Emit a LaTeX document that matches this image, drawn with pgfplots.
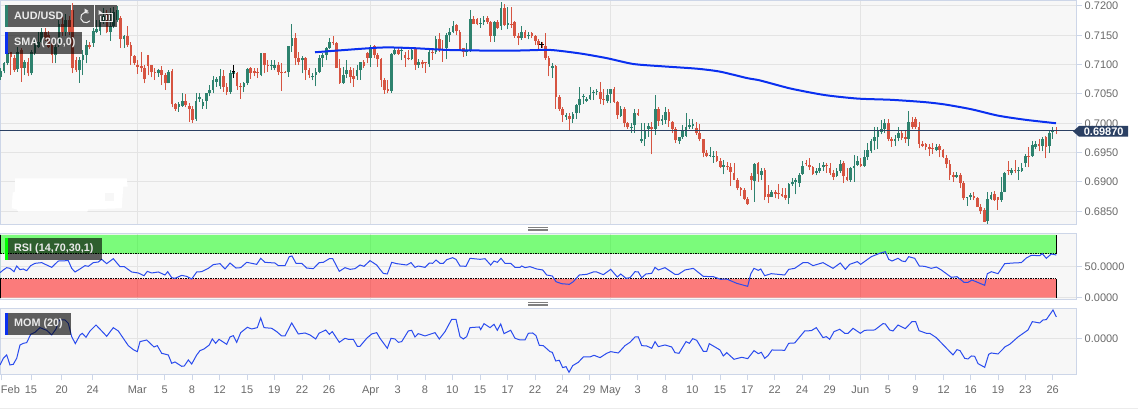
\documentclass[border=0pt]{standalone}
\usepackage{fontspec}
\setmainfont{Liberation Sans}
\usepackage{pgfplots}
\usepackage{pgfplotstable}
\pgfplotsset{compat=1.18}
\definecolor{bgc}{HTML}{F7F7F7}
\definecolor{gridc}{HTML}{E4E4E4}
\definecolor{bordc}{HTML}{CDD6E8}
\definecolor{txtc}{HTML}{6A6A6A}
\definecolor{upc}{HTML}{2E826E}
\definecolor{dnc}{HTML}{D65441}
\definecolor{smac}{HTML}{0A30F0}
\definecolor{linc}{HTML}{2A4BEE}
\definecolor{navy}{HTML}{2B4063}
\pgfplotstableread{
o h l c
0.7079 0.7094 0.7074 0.7089
0.7089 0.7105 0.7085 0.7102
0.7102 0.7122 0.7099 0.7119
0.7121 0.7122 0.7082 0.7113
0.7112 0.7116 0.7088 0.7091
0.7092 0.7130 0.7088 0.7122
0.7125 0.7128 0.7071 0.7094
0.7095 0.7108 0.7082 0.7104
0.7105 0.7111 0.7080 0.7085
0.7085 0.7125 0.7082 0.7122
0.7119 0.7143 0.7116 0.7133
0.7130 0.7156 0.7128 0.7139
0.7139 0.7162 0.7136 0.7156
0.7156 0.7162 0.7140 0.7145
0.7150 0.7158 0.7128 0.7130
0.7136 0.7139 0.7102 0.7116
0.7116 0.7136 0.7102 0.7130
0.7136 0.7176 0.7130 0.7170
0.7170 0.7182 0.7148 0.7156
0.7156 0.7187 0.7148 0.7176
0.7176 0.7182 0.7150 0.7156
0.7193 0.7205 0.7085 0.7094
0.7108 0.7113 0.7088 0.7091
0.7090 0.7113 0.7069 0.7108
0.7108 0.7125 0.7082 0.7116
0.7116 0.7142 0.7102 0.7133
0.7134 0.7139 0.7126 0.7130
0.7137 0.7162 0.7130 0.7158
0.7156 0.7176 0.7153 0.7160
0.7158 0.7182 0.7150 0.7176
0.7175 0.7196 0.7170 0.7182
0.7187 0.7193 0.7153 0.7156
0.7155 0.7196 0.7141 0.7165
0.7165 0.7199 0.7162 0.7190
0.7176 0.7200 0.7173 0.7193
0.7179 0.7182 0.7128 0.7143
0.7143 0.7150 0.7128 0.7148
0.7149 0.7165 0.7130 0.7133
0.7134 0.7139 0.7099 0.7115
0.7115 0.7116 0.7099 0.7102
0.7099 0.7108 0.7084 0.7096
0.7098 0.7122 0.7088 0.7094
0.7094 0.7099 0.7068 0.7075
0.7116 0.7116 0.7082 0.7098
0.7099 0.7100 0.7078 0.7087
0.7087 0.7094 0.7074 0.7085
0.7086 0.7092 0.7079 0.7091
0.7090 0.7098 0.7065 0.7082
0.7082 0.7085 0.7057 0.7068
0.7068 0.7091 0.7068 0.7088
0.7089 0.7092 0.7027 0.7032
0.7032 0.7034 0.7021 0.7025
0.7027 0.7036 0.7020 0.7032
0.7030 0.7051 0.7028 0.7038
0.7038 0.7050 0.7027 0.7031
0.7030 0.7034 0.7003 0.7024
0.7024 0.7029 0.7001 0.7006
0.7007 0.7051 0.7004 0.7038
0.7042 0.7051 0.7037 0.7044
0.7030 0.7041 0.7025 0.7037
0.7038 0.7052 0.7025 0.7051
0.7051 0.7065 0.7046 0.7057
0.7057 0.7081 0.7051 0.7074
0.7071 0.7078 0.7062 0.7075
0.7063 0.7092 0.7059 0.7080
0.7080 0.7090 0.7054 0.7062
0.7062 0.7068 0.7048 0.7054
0.7054 0.7091 0.7050 0.7085
0.7084 0.7099 0.7077 0.7088
0.7085 0.7088 0.7057 0.7063
0.7063 0.7068 0.7041 0.7062
0.7061 0.7071 0.7053 0.7068
0.7068 0.7094 0.7065 0.7092
0.7094 0.7096 0.7076 0.7086
0.7089 0.7094 0.7080 0.7086
0.7087 0.7094 0.7077 0.7085
0.7082 0.7119 0.7080 0.7119
0.7119 0.7119 0.7085 0.7099
0.7099 0.7108 0.7088 0.7098
0.7098 0.7108 0.7091 0.7099
0.7094 0.7107 0.7090 0.7099
0.7100 0.7105 0.7082 0.7088
0.7088 0.7102 0.7055 0.7086
0.7088 0.7089 0.7085 0.7086
0.7087 0.7132 0.7079 0.7132
0.7132 0.7169 0.7122 0.7146
0.7146 0.7153 0.7099 0.7111
0.7111 0.7122 0.7099 0.7105
0.7107 0.7115 0.7085 0.7112
0.7112 0.7113 0.7074 0.7091
0.7090 0.7094 0.7077 0.7082
0.7078 0.7085 0.7073 0.7080
0.7082 0.7094 0.7063 0.7087
0.7088 0.7116 0.7085 0.7112
0.7112 0.7119 0.7096 0.7116
0.7116 0.7130 0.7107 0.7128
0.7128 0.7146 0.7126 0.7139
0.7139 0.7148 0.7133 0.7136
0.7137 0.7139 0.7094 0.7095
0.7095 0.7109 0.7067 0.7069
0.7069 0.7096 0.7067 0.7083
0.7084 0.7108 0.7077 0.7090
0.7090 0.7096 0.7068 0.7078
0.7080 0.7094 0.7062 0.7076
0.7080 0.7099 0.7074 0.7090
0.7090 0.7105 0.7074 0.7104
0.7104 0.7108 0.7094 0.7098
0.7119 0.7122 0.7102 0.7112
0.7112 0.7133 0.7096 0.7130
0.7132 0.7134 0.7111 0.7116
0.7116 0.7119 0.7096 0.7109
0.7109 0.7111 0.7062 0.7074
0.7074 0.7077 0.7050 0.7057
0.7058 0.7074 0.7051 0.7055
0.7055 0.7119 0.7052 0.7118
0.7118 0.7128 0.7116 0.7125
0.7125 0.7128 0.7116 0.7118
0.7124 0.7128 0.7107 0.7125
0.7117 0.7122 0.7096 0.7112
0.7112 0.7125 0.7107 0.7109
0.7109 0.7130 0.7107 0.7125
0.7129 0.7130 0.7091 0.7099
0.7100 0.7109 0.7094 0.7105
0.7105 0.7108 0.7094 0.7101
0.7105 0.7105 0.7086 0.7104
0.7101 0.7128 0.7096 0.7122
0.7122 0.7129 0.7108 0.7119
0.7122 0.7149 0.7118 0.7143
0.7143 0.7153 0.7122 0.7126
0.7126 0.7142 0.7105 0.7125
0.7128 0.7153 0.7109 0.7150
0.7150 0.7162 0.7139 0.7156
0.7156 0.7175 0.7153 0.7166
0.7167 0.7169 0.7150 0.7157
0.7156 0.7159 0.7124 0.7126
0.7128 0.7129 0.7113 0.7122
0.7122 0.7137 0.7115 0.7125
0.7125 0.7193 0.7122 0.7177
0.7177 0.7182 0.7169 0.7170
0.7178 0.7180 0.7167 0.7170
0.7170 0.7179 0.7163 0.7171
0.7173 0.7182 0.7167 0.7176
0.7179 0.7182 0.7170 0.7173
0.7173 0.7175 0.7139 0.7149
0.7149 0.7175 0.7139 0.7173
0.7173 0.7176 0.7160 0.7163
0.7166 0.7207 0.7159 0.7197
0.7197 0.7204 0.7166 0.7167
0.7167 0.7199 0.7160 0.7171
0.7170 0.7199 0.7162 0.7169
0.7173 0.7175 0.7146 0.7149
0.7149 0.7153 0.7133 0.7146
0.7146 0.7166 0.7142 0.7155
0.7156 0.7159 0.7145 0.7146
0.7148 0.7156 0.7143 0.7151
0.7153 0.7155 0.7145 0.7149
0.7148 0.7151 0.7133 0.7141
0.7141 0.7143 0.7126 0.7133
0.7136 0.7139 0.7128 0.7130
0.7132 0.7153 0.7108 0.7112
0.7112 0.7115 0.7080 0.7098
0.7095 0.7102 0.7077 0.7098
0.7098 0.7099 0.7025 0.7044
0.7044 0.7048 0.7021 0.7024
0.7025 0.7028 0.7003 0.7014
0.7011 0.7017 0.7006 0.7014
0.7013 0.7017 0.6987 0.7008
0.7008 0.7020 0.7001 0.7016
0.7017 0.7033 0.7007 0.7031
0.7031 0.7061 0.7017 0.7042
0.7044 0.7050 0.7033 0.7046
0.7038 0.7045 0.7036 0.7042
0.7042 0.7061 0.7040 0.7049
0.7052 0.7057 0.7040 0.7054
0.7053 0.7058 0.7048 0.7055
0.7054 0.7070 0.7032 0.7041
0.7042 0.7058 0.7031 0.7040
0.7038 0.7059 0.7034 0.7048
0.7050 0.7059 0.7034 0.7058
0.7058 0.7061 0.7035 0.7037
0.7037 0.7038 0.7007 0.7014
0.7013 0.7029 0.7011 0.7025
0.7025 0.7028 0.6993 0.7001
0.7001 0.7003 0.6991 0.6993
0.6992 0.7000 0.6984 0.6994
0.6997 0.7025 0.6984 0.7017
0.7017 0.7025 0.7013 0.7014
0.6969 0.7001 0.6966 0.6973
0.6974 0.7001 0.6961 0.6988
0.6990 0.7001 0.6977 0.6995
0.6994 0.7003 0.6947 0.6991
0.6991 0.7048 0.6980 0.7025
0.7025 0.7027 0.6995 0.7004
0.7004 0.7014 0.6997 0.7008
0.7006 0.7027 0.6999 0.7020
0.7020 0.7024 0.6994 0.7004
0.7003 0.7004 0.6983 0.6991
0.6991 0.6994 0.6966 0.6971
0.6970 0.6977 0.6965 0.6976
0.6976 0.6997 0.6973 0.6988
0.6978 0.7018 0.6977 0.6994
0.6994 0.7007 0.6991 0.6997
0.6996 0.7007 0.6991 0.6999
0.6992 0.7003 0.6980 0.6983
0.6983 0.6999 0.6969 0.6973
0.6973 0.6974 0.6942 0.6950
0.6949 0.6954 0.6942 0.6945
0.6944 0.6959 0.6942 0.6946
0.6943 0.6952 0.6933 0.6944
0.6945 0.6952 0.6934 0.6936
0.6936 0.6940 0.6923 0.6926
0.6926 0.6938 0.6913 0.6929
0.6928 0.6934 0.6920 0.6926
0.6925 0.6932 0.6893 0.6917
0.6916 0.6933 0.6903 0.6904
0.6904 0.6906 0.6886 0.6889
0.6890 0.6892 0.6876 0.6886
0.6886 0.6889 0.6869 0.6871
0.6871 0.6875 0.6861 0.6862
0.6910 0.6915 0.6886 0.6903
0.6902 0.6933 0.6866 0.6931
0.6932 0.6934 0.6900 0.6913
0.6912 0.6923 0.6903 0.6919
0.6920 0.6923 0.6869 0.6875
0.6880 0.6895 0.6864 0.6875
0.6875 0.6886 0.6874 0.6883
0.6882 0.6886 0.6872 0.6879
0.6881 0.6896 0.6871 0.6879
0.6879 0.6889 0.6874 0.6876
0.6878 0.6889 0.6869 0.6872
0.6872 0.6899 0.6862 0.6896
0.6896 0.6906 0.6893 0.6900
0.6900 0.6906 0.6879 0.6903
0.6898 0.6916 0.6892 0.6912
0.6913 0.6936 0.6912 0.6928
0.6932 0.6937 0.6927 0.6930
0.6929 0.6940 0.6920 0.6925
0.6925 0.6927 0.6912 0.6913
0.6915 0.6923 0.6911 0.6919
0.6919 0.6932 0.6915 0.6923
0.6926 0.6934 0.6919 0.6929
0.6929 0.6932 0.6915 0.6927
0.6924 0.6932 0.6912 0.6915
0.6916 0.6920 0.6903 0.6909
0.6910 0.6923 0.6908 0.6919
0.6919 0.6937 0.6916 0.6930
0.6932 0.6935 0.6898 0.6910
0.6909 0.6923 0.6902 0.6904
0.6903 0.6926 0.6900 0.6923
0.6923 0.6946 0.6900 0.6928
0.6929 0.6944 0.6928 0.6936
0.6930 0.6940 0.6926 0.6928
0.6928 0.6954 0.6926 0.6943
0.6943 0.6966 0.6938 0.6954
0.6953 0.6974 0.6949 0.6969
0.6969 0.6994 0.6954 0.6977
0.6976 0.6994 0.6956 0.6986
0.6985 0.7005 0.6981 0.6990
0.6990 0.7008 0.6983 0.7000
0.7000 0.7008 0.6969 0.6973
0.6973 0.6977 0.6960 0.6969
0.6969 0.6980 0.6961 0.6974
0.6975 0.6994 0.6969 0.6984
0.6983 0.6987 0.6971 0.6975
0.6976 0.6986 0.6966 0.6973
0.6974 0.7021 0.6962 0.7002
0.7003 0.7010 0.6991 0.6994
0.7008 0.7010 0.6990 0.6994
0.6994 0.7002 0.6957 0.6965
0.6965 0.6969 0.6959 0.6962
0.6964 0.6967 0.6954 0.6959
0.6960 0.6965 0.6945 0.6956
0.6958 0.6966 0.6948 0.6956
0.6954 0.6965 0.6952 0.6960
0.6961 0.6964 0.6942 0.6954
0.6954 0.6956 0.6940 0.6942
0.6941 0.6946 0.6923 0.6931
0.6931 0.6937 0.6903 0.6912
0.6911 0.6917 0.6900 0.6908
0.6908 0.6917 0.6906 0.6911
0.6912 0.6916 0.6889 0.6899
0.6899 0.6902 0.6869 0.6872
0.6873 0.6875 0.6859 0.6874
0.6874 0.6881 0.6870 0.6877
0.6876 0.6883 0.6869 0.6872
0.6872 0.6875 0.6857 0.6858
0.6858 0.6862 0.6846 0.6850
0.6852 0.6855 0.6831 0.6832
0.6834 0.6882 0.6829 0.6871
0.6871 0.6882 0.6869 0.6878
0.6879 0.6885 0.6868 0.6870
0.6874 0.6875 0.6853 0.6869
0.6869 0.6909 0.6866 0.6883
0.6883 0.6917 0.6882 0.6916
0.6920 0.6936 0.6912 0.6919
0.6916 0.6923 0.6911 0.6920
0.6920 0.6938 0.6915 0.6918
0.6919 0.6926 0.6903 0.6920
0.6919 0.6932 0.6917 0.6924
0.6932 0.6947 0.6926 0.6945
0.6945 0.6960 0.6925 0.6943
0.6944 0.6969 0.6943 0.6963
0.6960 0.6969 0.6956 0.6965
0.6965 0.6973 0.6952 0.6961
0.6961 0.6976 0.6952 0.6974
0.6976 0.6978 0.6940 0.6960
0.6961 0.6987 0.6950 0.6984
0.6985 0.6994 0.6974 0.6988
0.6989 0.6993 0.6981 0.6987
}\candles
\newcommand\candleplot[5]{%
\addplot[draw=none,mark=none,forget plot,error bars/.cd,y dir=plus,y explicit,error mark=none,
  error bar style={solid,line width=#3,draw=#2}]
  table[x expr={(#1) ? 0.67+3.427*\coordindex : nan},y expr={#4},y error plus expr={#5}]{\candles};}
\begin{document}
\begin{tikzpicture}
\path[use as bounding box,fill=white] (0pt,0pt) rectangle (1138pt,-417pt);
\pgfplotsset{
  panel/.style={scale only axis,width=1076pt,xmin=0,xmax=1076,
    axis background/.style={fill=bgc},
    axis line style={bordc,line width=1pt},
    tick style={bordc,line width=1pt},
    major tick length=6pt,tick align=outside,
    ytick pos=right,yticklabel pos=right,
    xtick pos=bottom,
    ymajorgrids,xmajorgrids,
    grid style={gridc,line width=1pt},
    scaled y ticks=false,
    tick label style={font=\fontsize{11}{13}\selectfont,text=txtc},
    yticklabel style={/pgf/number format/assume math mode=true,/pgf/number format/fixed,/pgf/number format/fixed zerofill,/pgf/number format/precision=4,anchor=west,inner sep=0pt,xshift=2.5pt},
    xtick={137.3,370.7,610.3,860.3},
    unbounded coords=discard},
  noxlab/.style={xticklabels={,,,},x tick style={draw=none},major x tick style={draw=none}}
}
% main price panel
\begin{axis}[panel,noxlab,at={(0pt,-224pt)},anchor=south west,height=223.3pt,
  ymin=0.68283,ymax=0.72089,ytick={0.685,0.69,0.695,0.7,0.705,0.71,0.715,0.72}]
\candleplot{\thisrow{c}>=\thisrow{o}}{upc}{1pt}{\thisrow{l}}{\thisrow{h}-\thisrow{l}}
\candleplot{\thisrow{c}>=\thisrow{o}}{upc}{2.7pt}{\thisrow{o}}{\thisrow{c}-\thisrow{o}}
\candleplot{\thisrow{c}<\thisrow{o}}{dnc}{1pt}{\thisrow{l}}{\thisrow{h}-\thisrow{l}}
\candleplot{\thisrow{c}<\thisrow{o}}{dnc}{2.7pt}{\thisrow{c}}{\thisrow{o}-\thisrow{c}}
\addplot[navy,line width=1pt,forget plot] coordinates {(0,0.6987) (1076,0.6987)};
\addplot[smac,line width=2pt,forget plot,smooth,tension=0.4] coordinates {
(315,0.7121) (380,0.7129) (413.3,0.7128) (446.7,0.7125) (480,0.7124) (520,0.7124) (550,0.7125)
(580,0.7119) (606.7,0.7111) (633.3,0.7101) (663,0.7097) (697,0.7093) (720,0.7088) (747,0.7077)
(760,0.7073) (791,0.7059) (825,0.7048) (858,0.7042) (891,0.7040) (925,0.7036) (945,0.7032)
(971,0.7024) (998,0.7013) (1025,0.7006) (1056,0.7000)};
\end{axis}
% RSI panel
\begin{axis}[panel,noxlab,at={(0pt,-299pt)},anchor=south west,height=65.7pt,
  ymin=-2.1,ymax=102.7,ytick={0,50}]
\addplot[fill=green,fill opacity=0.5,draw=none,forget plot] coordinates {(0,70)(1056,70)(1056,100)(0,100)} \closedcycle;
\addplot[fill=red,fill opacity=0.5,draw=none,forget plot] coordinates {(0,0)(1056,0)(1056,30)(0,30)} \closedcycle;
\addplot[black,line width=0.8pt,dash pattern=on 1.5pt off 1pt,forget plot] coordinates {(0,70)(1056,70)};
\addplot[black,line width=0.8pt,dash pattern=on 1.5pt off 1pt,forget plot] coordinates {(0,30)(1056,30)};
\addplot[black,line width=0.8pt,forget plot] coordinates {(1056,70)(1056,100)};
\addplot[black,line width=0.8pt,forget plot] coordinates {(1056,0)(1056,30)};
\addplot[black,line width=0.8pt,forget plot] coordinates {(0.5,70)(0.5,100)};
\addplot[black,line width=0.8pt,forget plot] coordinates {(0.5,0)(0.5,30)};
\addplot[linc,line width=1pt,forget plot] coordinates {
(0,39.9)(3.3,44.2)(6.7,47.9)(10,46.8)(14,41.5)(16.7,50.5)(20,44.7)(23.3,45.8)(26.7,43.1)(30.7,51.1)
(35,54.8)(41.7,55.9)(46.7,52.1)(51.7,48.4)(58.3,58.5)(68.3,59.1)(71.7,46.8)(75,41)(80,45.8)(85,51.1)
(88.3,50)(93.3,55.9)(98.3,56.9)(101.7,61.2)(106.7,54.3)(113.3,62.2)(120,49.5)(124.3,49.5)(131.7,41)
(138.3,39.4)(144,35.1)(147.3,42)(151.7,39.4)(158.3,41)(165,36.2)(167.7,41.5)(171.7,31.9)(175,30.9)
(181.7,35.6)(186.7,34)(191.7,29.8)(196.7,41)(201.7,41.5)(208.3,46.8)(213.3,52.7)(220,54.3)(225,45.8)
(230,55.3)(236,47.3)(240.7,47.9)(246.7,56.4)(256.7,53.2)(260.7,62.8)(265,56.4)(275,55.3)(278.3,51.1)
(285,51.1)(289.3,65.4)(292,66.5)(296,54.8)(301.7,54.8)(306.7,47.3)(313.3,46.3)(319.3,55.9)(323.3,56.4)
(329.3,62.2)(332.7,62.2)(339.3,42)(345,47.9)(350,45.2)(355,46.3)(360,52.1)(364,50)(370,59.1)(376.7,52.1)
(380,45.2)(383.3,38.8)(387.3,37.8)(391.7,56.4)(396.7,54.3)(406.7,52.1)(411,55.9)(415,48.4)(418.3,50.5)
(425,48.4)(429.3,55.3)(432.7,54.8)(436,60.1)(440,54.8)(443.3,54.8)(446.7,60.6)(452.7,63.8)(456,61.2)
(460,50.5)(466,50)(470,62.8)(480,61.2)(485,62.2)(490.7,52.1)(494,58.5)(497.3,56.4)(501,62.8)(505,54.8)
(510.7,54.8)(515,48.4)(520,48.4)(521.7,50.5)(525,47.9)(530,49.5)(536.7,45.8)(542.7,44.2)(546.7,36.2)
(552.3,34.6)(556,25.5)(561.7,22.3)(569.3,21.3)(573.3,25.5)(579.3,36.2)(586.7,37.2)(593.3,41)(596.7,41)
(603.3,36.7)(610.7,45.2)(617.3,33)(620.7,37.8)(626,30.9)(630,31.9)(635,41.5)(638.3,41)(641.7,31.9)
(646,37.8)(651.7,38.8)(655,48.4)(658.3,44.2)(665,47.9)(675,37.2)(678.3,37.2)(685,44.2)(693.3,46.8)
(703.3,34)(713.3,33.5)(720.7,29.3)(726.7,29.8)(736.7,22.9)(747.7,18.1)(750.7,37.8)(754,46.8)(758.3,43.6)
(760.7,45.8)(764.7,35.1)(771.3,38.3)(784.7,36.2)(788.7,45.2)(794.7,46.8)(803,55.9)(808,55.9)(813,51.1)
(823,55.9)(833,46.8)(840.3,55.3)(845.3,45.2)(849.7,53.2)(857.3,57.5)(860.7,53.2)(871.3,65.4)(879.7,70.8)
(885.3,73.4)(888.7,61.2)(892,58.5)(898,62.8)(902,58.5)(905.3,57.5)(908.7,65.4)(914.7,62.8)(919.3,50.5)
(924.7,50)(931.3,46.8)(936.3,48.9)(941.3,44.2)(951.3,32.5)(957,33.5)(964,24.5)(968,24.5)(972,28.2)
(984.7,19.7)(987.3,38.3)(991.3,41.5)(998,38.3)(1004.7,54.3)(1013,55.3)(1021.3,55.9)(1026.3,63.3)
(1031.3,67.6)(1039.7,67)(1042.3,70.2)(1046.3,62.8)(1051.3,69.7)(1056.3,68.1)};
\end{axis}
% MOM panel
\begin{axis}[panel,at={(0pt,-374.3pt)},anchor=south west,height=66pt,
  ymin=-0.0108,ymax=0.0090,ytick={0},
  xticklabels={Mar,Apr,May,Jun},
  extra x ticks={1,31,61.7,92.7,164.7,192,219.7,247,274.3,302,329,397.7,425,452.3,480,507.7,535,562.3,589.3,637.7,665,692.3,720,747.3,774.7,802,829.7,888,915.3,943.7,970.7,998,1025.3,1052.7},
  extra x tick labels={\rlap{Feb},15,20,24,5,8,12,15,19,22,26,3,8,10,15,17,22,24,29,3,8,10,15,17,22,24,29,5,9,12,16,19,23,26},
  extra x tick style={grid=none},
  xticklabel style={yshift=-2pt}]
\addplot[linc,line width=1pt,forget plot] coordinates {
(0,-0.0080)(3.3,-0.0060)(6.7,-0.0050)(10,-0.0080)(13.3,-0.0078)(16.7,-0.0060)(20,-0.0020)(23.3,-0.0015)
(26.7,-0.0013)(30.7,0.0012)(35,0.0018)(40,0.0032)(46.7,0.0024)(51.7,0.0010)(56,0.0028)(59.3,0.0055)
(65,0.0055)(68.3,0.0045)(71.7,0.0005)(75.3,-0.0016)(80,0.0010)(82.3,0.0015)(86,0.0003)(90,0.0022)
(96,0.0040)(101.7,0.0022)(106.7,0.0006)(113.3,0.0032)(118.3,0.0022)(123.3,0)(128.3,-0.0022)(133.3,-0.0034)
(137.3,-0.0040)(140,-0.0010)(146.7,-0.0005)(154,-0.0026)(157.3,-0.0022)(161.7,-0.0045)(168.3,-0.0050)
(171.7,-0.0075)(175,-0.0071)(181.7,-0.0084)(184.3,-0.0083)(188.3,-0.0065)(191.7,-0.0077)(196.7,-0.0050)
(200,-0.0037)(204,-0.0032)(209.3,-0.0020)(212.3,-0.0002)(215.7,-0.0015)(219,-0.0003)(226.7,-0.0018)
(230,0.0004)(233.3,0.0008)(236.7,-0.0012)(240.7,0.0017)(247.3,0.0033)(251.7,0.0028)(257.3,0.0032)
(260.7,0.0061)(264,0.0032)(271.7,0.0030)(276.7,0.0020)(281.7,0.0007)(285,0.0007)(291.7,0.0046)
(298.3,0.0013)(305,0.0016)(310,0.0010)(315.7,-0.0002)(319,0.0015)(325.7,0.0025)(329.3,0.0012)
(332.3,0.0020)(339.3,-0.0012)(345,0)(348.3,-0.0003)(353.3,-0.0003)(357.3,-0.0024)(360,-0.0024)
(366.7,0)(371.7,0.0013)(376.7,0.0017)(380,0)(387.3,-0.0030)(391,0)(395,-0.0002)(398.3,-0.0012)
(401.7,-0.0010)(408.3,0.0022)(411.7,0.0024)(415,0.0004)(418.3,0.0014)(425,0.0007)(435,0.0017)
(439.3,-0.0002)(445,0.0020)(451.7,0.0057)(456,0.0057)(460,0.0005)(463.3,-0.0002)(466.7,0.0005)
(470,0.0032)(479.3,0.0034)(480.7,0.0026)(484,0.0044)(490,0.0032)(494,0.0042)(497.3,0.0024)(500.7,0.0043)
(504,0.0014)(510.7,0.0024)(515,0)(520,-0.0005)(525,-0.0005)(528.3,0.0015)(532.7,0.0016)(536,0.0008)
(539.3,-0.0021)(543.3,-0.0022)(550,-0.0040)(552.3,-0.0042)(555.7,-0.0068)(559.3,-0.0066)(562.7,-0.0088)
(566,-0.0085)(569,-0.0102)(572.7,-0.0082)(578.3,-0.0072)(583.3,-0.0056)(590,-0.0056)(594,-0.0051)
(600,-0.0058)(606.7,-0.0045)(610.7,-0.0040)(618.3,-0.0044)(625,-0.0022)(630,-0.0012)(635,0.0004)
(638.3,0.0004)(641.7,-0.0022)(646.7,-0.0023)(651.7,-0.0030)(655,-0.0010)(658.3,-0.0025)(665,-0.0020)
(671.7,-0.0026)(675,-0.0043)(679,-0.0045)(686,-0.0010)(689.3,-0.0015)(692.7,-0.0001)(696.7,-0.0006)
(703.3,-0.0039)(706.7,-0.0039)(709.3,-0.0016)(720,-0.0035)(723.3,-0.0053)(726.7,-0.0043)(734,-0.0063)
(741.7,-0.0057)(747.7,-0.0061)(754,-0.0037)(758.3,-0.0046)(761.3,-0.0042)(764.7,-0.0060)(768,-0.0052)
(772,-0.0035)(784.7,-0.0036)(788.7,-0.0015)(794.7,-0.0014)(804.7,0.0022)(811.3,0.0023)(816.3,0.0032)
(823,0.0002)(826.3,0.0005)(829.7,-0.0003)(834,0.0020)(839.7,0.0027)(844.7,0.0015)(848,0.0015)(853,0.0030)
(860.3,0.0015)(864.7,0.0024)(874.7,0.0025)(883,0.0044)(885.3,0.0043)(889.7,0.0025)(893,0.0022)(898,0.0040)
(905.3,0.0029)(912,0.0050)(915.7,0.0050)(919,0.0023)(926.3,0.0015)(929.7,0.0015)(936.3,0.0002)(953,-0.0050)
(957,-0.0034)(960,-0.0037)(964.7,-0.0060)(968,-0.0062)(971.3,-0.0053)(974.7,-0.0054)(978,-0.0076)
(984.7,-0.0087)(988.7,-0.0048)(991.3,-0.0044)(998,-0.0047)(1005.3,-0.0025)(1009.7,-0.0018)(1018,0.0004)
(1028,0.0025)(1032.3,0.0050)(1039.7,0.0046)(1043,0.0055)(1046.3,0.0056)(1053,0.0085)(1056.3,0.0064)};
\end{axis}
% overlays (pixel coordinates, y downwards)
\begin{scope}[x=1pt,y=-1pt]
% redaction patch
\fill[white] (15,178.3)--(126.7,178.3)--(127.7,186.7)--(123.3,186.7)--(121.7,208.3)--(88.3,209.3)--(87.3,211.7)--(18.3,211.7)--(16.7,209.3)--(11.7,208.3)--(12.7,192.7)--(15,191.7)--cycle;
\fill[bgc] (105,192.7) rectangle (114,201);
% cursors
\draw[black,line width=0.7pt] (233,65)--(233,78.3) (231.7,71.7)--(235,71.7);
\draw[black,line width=0.7pt] (541.7,41.7)--(541.7,47.7) (539.3,44.7)--(543.7,44.7);
% price marker
\fill[navy] (1073,131.3)--(1079,126)--(1128,126)--(1128,136.7)--(1079,136.7)--cycle;
\node[text=white,font=\bfseries\fontsize{11}{13}\selectfont,inner sep=0pt] at (1103.7,131.5) {0.69870};
% overlay boxes
\fill[black,opacity=0.62] (5,5) rectangle (71,27);
\fill[black,opacity=0.62] (73,5) rectangle (94,27);
\fill[black,opacity=0.62] (95,5) rectangle (117,27);
\fill[black,opacity=0.62] (5,32) rectangle (82,54);
\fill[black,opacity=0.62] (5,238) rectangle (102,260);
\fill[black,opacity=0.62] (5,313) rectangle (71,335);
\fill[upc] (5,5) rectangle (8,27);
\fill[smac] (5,32) rectangle (8,54);
\fill[green] (5,238) rectangle (8,260);
\fill[smac] (5,313) rectangle (8,335);
\begin{scope}[every node/.style={anchor=west,inner sep=0pt,text=white!92!black,font=\bfseries\fontsize{10.8}{13}\selectfont}]
\node at (14,16) {AUD/USD};
\node at (14,43) {SMA (200,0)};
\node at (14,249) {RSI (14,70,30,1)};
\node at (14,324) {MOM (20)};
\end{scope}
% refresh icon
\draw[white!92!black,line width=1pt] (88.5,13) arc[start angle=-60,end angle=-320,x radius=5.2pt,y radius=-5.2pt];
\fill[white!92!black] (84.5,8.5)--(88.5,11)--(84.5,13.5)--cycle;
% history icon
\draw[white!92!black,line width=0.9pt] (100,13)--(112.5,13)--(112.5,21.5)--(100,21.5)--(100,16);
\draw[white!92!black,line width=0.9pt] (103,20.5)--(103,17) (106,20.5)--(106,15.5) (109,20.5)--(109,15.5);
\fill[white!92!black] (98.5,10)--(102,12.5)--(98.5,15)--cycle;
% splitters
\draw[gray,line width=0.6pt] (528,227.3)--(548,227.3) (528,228.8)--(548,228.8) (528,230.3)--(548,230.3);
\draw[gray,line width=0.6pt] (528,302.5)--(548,302.5) (528,304)--(548,304) (528,305.5)--(548,305.5);
% bottom rule
\draw[gridc!70!white,line width=1pt] (0,408)--(1138,408);
\end{scope}
\end{tikzpicture}
\end{document}
